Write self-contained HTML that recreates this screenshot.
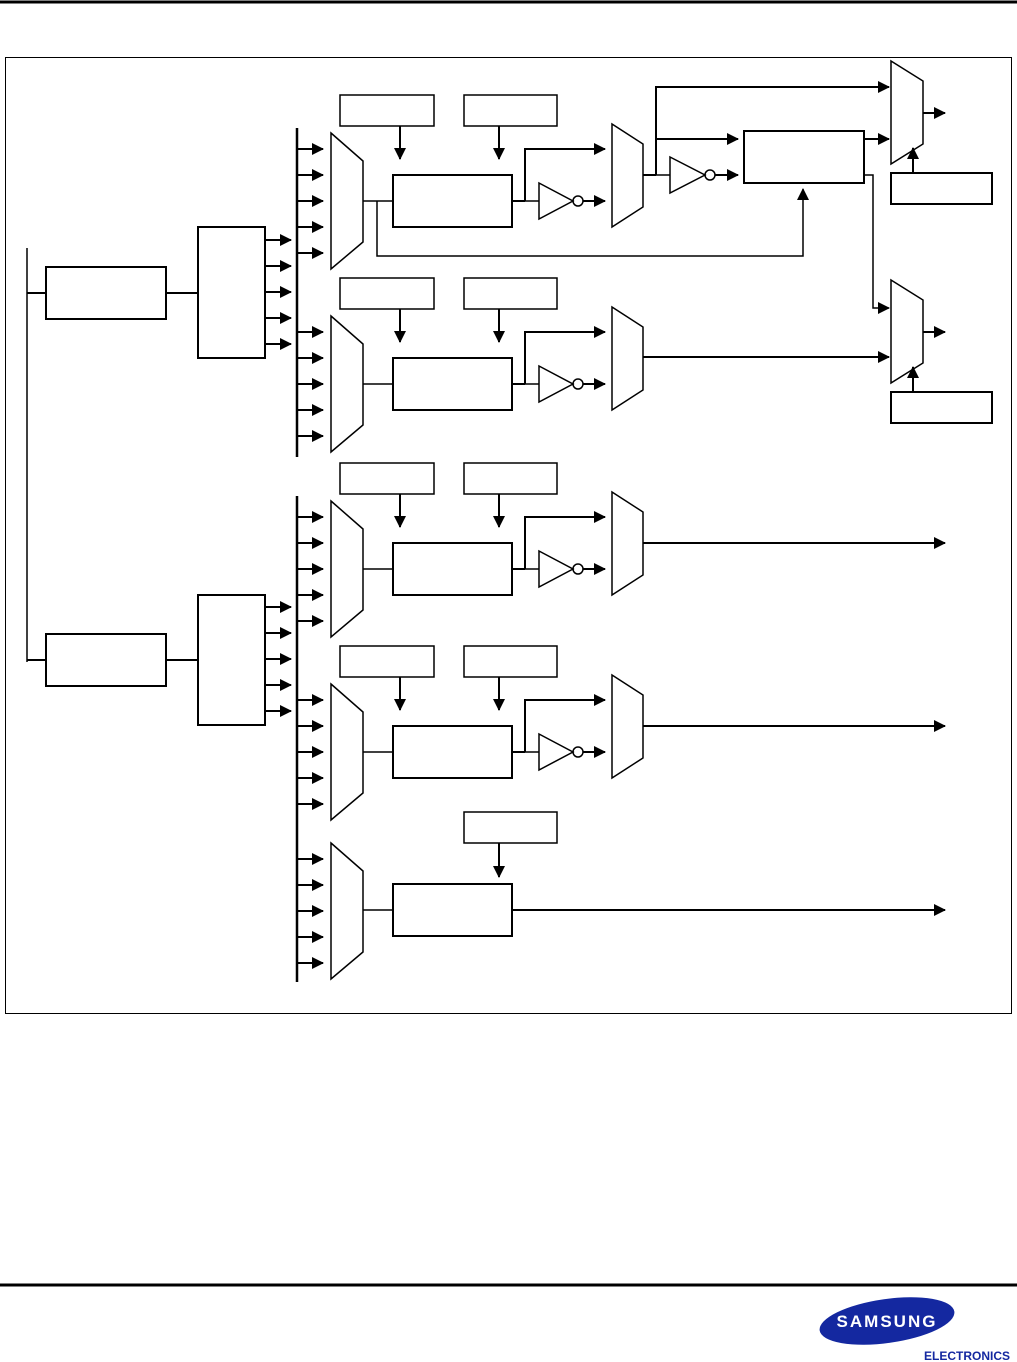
<!DOCTYPE html>
<html><head><meta charset="utf-8"><style>
html,body{margin:0;padding:0;background:#fff;}
body{width:1017px;height:1362px;position:relative;overflow:hidden;font-family:"Liberation Sans",sans-serif;}
</style></head><body>
<svg width="1017" height="1362" viewBox="0 0 1017 1362" xmlns="http://www.w3.org/2000/svg" style="position:absolute;left:0;top:0">
<defs>
<marker id="a" markerUnits="userSpaceOnUse" markerWidth="12" markerHeight="12" refX="11" refY="6" orient="auto"><path d="M0,0 L12,6 L0,12 z" fill="#000"/></marker>
<g id="grp" fill="none" stroke="#000" stroke-width="2">
  <rect x="340" y="95" width="94" height="31" stroke-width="1.5"/>
  <rect x="464" y="95" width="93" height="31" stroke-width="1.5"/>
  <line x1="400" y1="126" x2="400" y2="159" marker-end="url(#a)"/>
  <line x1="499" y1="126" x2="499" y2="159" marker-end="url(#a)"/>
  <line x1="297" y1="149" x2="323" y2="149" marker-end="url(#a)"/>
  <line x1="297" y1="175" x2="323" y2="175" marker-end="url(#a)"/>
  <line x1="297" y1="201" x2="323" y2="201" marker-end="url(#a)"/>
  <line x1="297" y1="227" x2="323" y2="227" marker-end="url(#a)"/>
  <line x1="297" y1="253" x2="323" y2="253" marker-end="url(#a)"/>
  <path d="M331,133 L363,161 L363,242 L331,269 Z" stroke-width="1.5"/>
  <line x1="363" y1="201" x2="393" y2="201" stroke-width="1.5"/>
  <rect x="393" y="175" width="119" height="52"/>
  <path d="M512,201 H525 M525,201 V149 H605" marker-end="url(#a)"/>
  <line x1="525" y1="201" x2="539" y2="201" stroke-width="1.5"/>
  <path d="M539,183 L573,201 L539,219 Z" stroke-width="1.5"/>
  <circle cx="578" cy="201" r="5" stroke-width="1.5"/>
  <line x1="583" y1="201" x2="605" y2="201" marker-end="url(#a)"/>
  <path d="M612,124 L643,144 L643,207 L612,227 Z" stroke-width="1.5"/>
</g>
</defs>
<line x1="0" y1="2" x2="1017" y2="2" stroke="#000" stroke-width="3"/>
<rect x="5.5" y="57.5" width="1006" height="956" fill="none" stroke="#000" stroke-width="1"/>
<g fill="none" stroke="#000" stroke-width="2">
  <line x1="27" y1="248" x2="27" y2="662" stroke-width="1.5"/>
  <line x1="27" y1="293" x2="46" y2="293"/>
  <rect x="46" y="267" width="120" height="52"/>
  <line x1="166" y1="293" x2="198" y2="293"/>
  <rect x="198" y="227" width="67" height="131"/>
  <line x1="27" y1="660" x2="46" y2="660"/>
  <rect x="46" y="634" width="120" height="52"/>
  <line x1="166" y1="660" x2="198" y2="660"/>
  <rect x="198" y="595" width="67" height="130"/>
  <line x1="297" y1="128" x2="297" y2="457" stroke-width="2.5"/>
  <line x1="297" y1="496" x2="297" y2="982" stroke-width="2.5"/>
  <line x1="265" y1="240" x2="291" y2="240" marker-end="url(#a)"/>
  <line x1="265" y1="266" x2="291" y2="266" marker-end="url(#a)"/>
  <line x1="265" y1="292" x2="291" y2="292" marker-end="url(#a)"/>
  <line x1="265" y1="318" x2="291" y2="318" marker-end="url(#a)"/>
  <line x1="265" y1="344" x2="291" y2="344" marker-end="url(#a)"/>
  <line x1="265" y1="607" x2="291" y2="607" marker-end="url(#a)"/>
  <line x1="265" y1="633" x2="291" y2="633" marker-end="url(#a)"/>
  <line x1="265" y1="659" x2="291" y2="659" marker-end="url(#a)"/>
  <line x1="265" y1="685" x2="291" y2="685" marker-end="url(#a)"/>
  <line x1="265" y1="711" x2="291" y2="711" marker-end="url(#a)"/>
</g>
<use href="#grp"/>
<use href="#grp" transform="translate(0,183)"/>
<use href="#grp" transform="translate(0,368)"/>
<use href="#grp" transform="translate(0,551)"/>
<g fill="none" stroke="#000" stroke-width="2">
  <!-- group 1 extras -->
  <path d="M377,201 V256 H803 V189" stroke-width="1.5" marker-end="url(#a)"/>
  <path d="M643,175 H656 M656,175 V87 H889" marker-end="url(#a)"/>
  <line x1="656" y1="139" x2="738" y2="139" marker-end="url(#a)"/>
  <line x1="656" y1="175" x2="670" y2="175" stroke-width="1.5"/>
  <path d="M670,157 L705,175 L670,193 Z" stroke-width="1.5"/>
  <circle cx="710" cy="175" r="5" stroke-width="1.5"/>
  <line x1="715" y1="175" x2="738" y2="175" marker-end="url(#a)"/>
  <rect x="744" y="131" width="120" height="52"/>
  <line x1="864" y1="139" x2="889" y2="139" marker-end="url(#a)"/>
  <path d="M864,175 H873 V308 H889" stroke-width="1.5" marker-end="url(#a)"/>
  <path d="M891,61 L923,81 L923,144 L891,164 Z" stroke-width="1.5"/>
  <line x1="923" y1="113" x2="945" y2="113" marker-end="url(#a)"/>
  <rect x="891" y="173" width="101" height="31"/>
  <line x1="913" y1="173" x2="913" y2="148" marker-end="url(#a)"/>
  <path d="M891,280 L923,300 L923,363 L891,383 Z" stroke-width="1.5"/>
  <line x1="923" y1="332" x2="945" y2="332" marker-end="url(#a)"/>
  <rect x="891" y="392" width="101" height="31"/>
  <line x1="913" y1="392" x2="913" y2="367" marker-end="url(#a)"/>
  <!-- group 2 output -->
  <line x1="643" y1="357" x2="889" y2="357" marker-end="url(#a)"/>
  <!-- group 3/4 outputs -->
  <line x1="643" y1="543" x2="945" y2="543" marker-end="url(#a)"/>
  <line x1="643" y1="726" x2="945" y2="726" marker-end="url(#a)"/>
  <!-- group 5 -->
  <rect x="464" y="812" width="93" height="31" stroke-width="1.5"/>
  <line x1="499" y1="843" x2="499" y2="877" marker-end="url(#a)"/>
  <line x1="297" y1="859" x2="323" y2="859" marker-end="url(#a)"/>
  <line x1="297" y1="885" x2="323" y2="885" marker-end="url(#a)"/>
  <line x1="297" y1="911" x2="323" y2="911" marker-end="url(#a)"/>
  <line x1="297" y1="937" x2="323" y2="937" marker-end="url(#a)"/>
  <line x1="297" y1="963" x2="323" y2="963" marker-end="url(#a)"/>
  <path d="M331,843 L363,871 L363,952 L331,979 Z" stroke-width="1.5"/>
  <line x1="363" y1="910" x2="393" y2="910" stroke-width="1.5"/>
  <rect x="393" y="884" width="119" height="52"/>
  <line x1="512" y1="910" x2="945" y2="910" marker-end="url(#a)"/>
</g>
<line x1="0" y1="1285" x2="1017" y2="1285" stroke="#000" stroke-width="3"/>
<ellipse cx="887" cy="1321" rx="68" ry="22" fill="#1428a0" transform="rotate(-8 887 1321)"/>
<text x="887" y="1327" text-anchor="middle" fill="#fff" font-family="Liberation Sans, sans-serif" font-weight="bold" font-size="17" letter-spacing="2">SAMSUNG</text>
<text x="967" y="1360" text-anchor="middle" fill="#1428a0" font-family="Liberation Sans, sans-serif" font-weight="bold" font-size="12">ELECTRONICS</text>
</svg>
</body></html>
